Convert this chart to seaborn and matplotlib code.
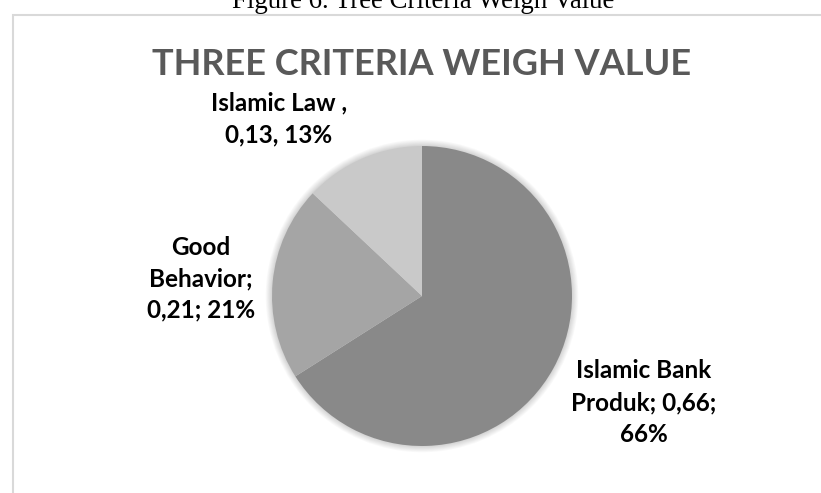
import matplotlib
matplotlib.use("Agg")
import matplotlib.pyplot as plt
from matplotlib.patches import Rectangle, Circle
import seaborn as sns

# ---- data ----
categories = ["Islamic Bank Produk", "Good Behavior", "Islamic Law"]
values = [0.66, 0.21, 0.13]
label_lines = [
    ["Islamic Bank", "Produk; 0,66;", "66%"],
    ["Good", "Behavior;", "0,21; 21%"],
    ["Islamic Law ,", "0,13, 13%"],
]
colors = ["#898989", "#a5a5a5", "#c9c9c9"]
title = "THREE CRITERIA WEIGH VALUE"
caption = "Figure 6. Tree Criteria Weigh Value"

sns.set_theme(style="white")
plt.rcParams["font.family"] = ["Lato", "DejaVu Sans"]

W, H = 821, 493
fig = plt.figure(figsize=(W / 100, H / 100), dpi=100)
fig.patch.set_facecolor("white")


def fx(x):
    return x / W


def fy(y):
    return 1 - y / H


# chart frame (open to the right and bottom)
fig.patches.append(Rectangle((fx(12.5), -0.1), 1.2, fy(15.5) + 0.1,
                             transform=fig.transFigure, fill=False,
                             edgecolor="#d9d9d9", linewidth=1.5))

# pie
cx, cy, r = 422, 296, 150
pad = 1.1
ax = fig.add_axes([fx(cx - r * pad), fy(cy + r * pad), 2 * r * pad / W, 2 * r * pad / H])
for i in range(1, 8):
    ax.add_patch(Circle((0, 0), 1 + i * 0.006, facecolor="#000000",
                        edgecolor="none", alpha=0.025, zorder=0))
wedges, _ = ax.pie(values, colors=colors, startangle=90, counterclock=False,
                   radius=1, wedgeprops=dict(linewidth=0))
for w_ in wedges:
    w_.set_zorder(2)
ax.set_xlim(-pad, pad)
ax.set_ylim(-pad, pad)
ax.set_axis_off()

fig.canvas.draw()
renderer = fig.canvas.get_renderer()


def fit_text(x, y, s, target_w, fs0, **kw):
    t = fig.text(fx(x), fy(y), s, fontsize=fs0, ha="center", va="baseline", **kw)
    w = t.get_window_extent(renderer).width
    t.set_fontsize(fs0 * target_w / w)
    return t.get_fontsize()


# caption (cut at the top like the reference)
fit_text(423, 8, caption, 385, 17, family=["Liberation Serif", "DejaVu Serif"],
         color="black")

# title
fit_text(422, 75, title, 540, 26, fontweight="bold", color="#595959")

# data labels
label_fs = None
t = fig.text(0, 0, "Produk; 0,66;", fontsize=17, fontweight="bold")
wref = t.get_window_extent(renderer).width
t.remove()
label_fs = 17 * 145 / wref

label_centers = [644, 201, 279]
label_baselines = [[378, 410, 442], [255, 286, 317], [110, 142]]
for lines, xc, bases in zip(label_lines, label_centers, label_baselines):
    for line, yb in zip(lines, bases):
        fig.text(fx(xc), fy(yb), line, fontsize=label_fs, fontweight="bold",
                 ha="center", va="baseline", color="#000000")

fig.savefig("out.png", dpi=100, facecolor="white")
